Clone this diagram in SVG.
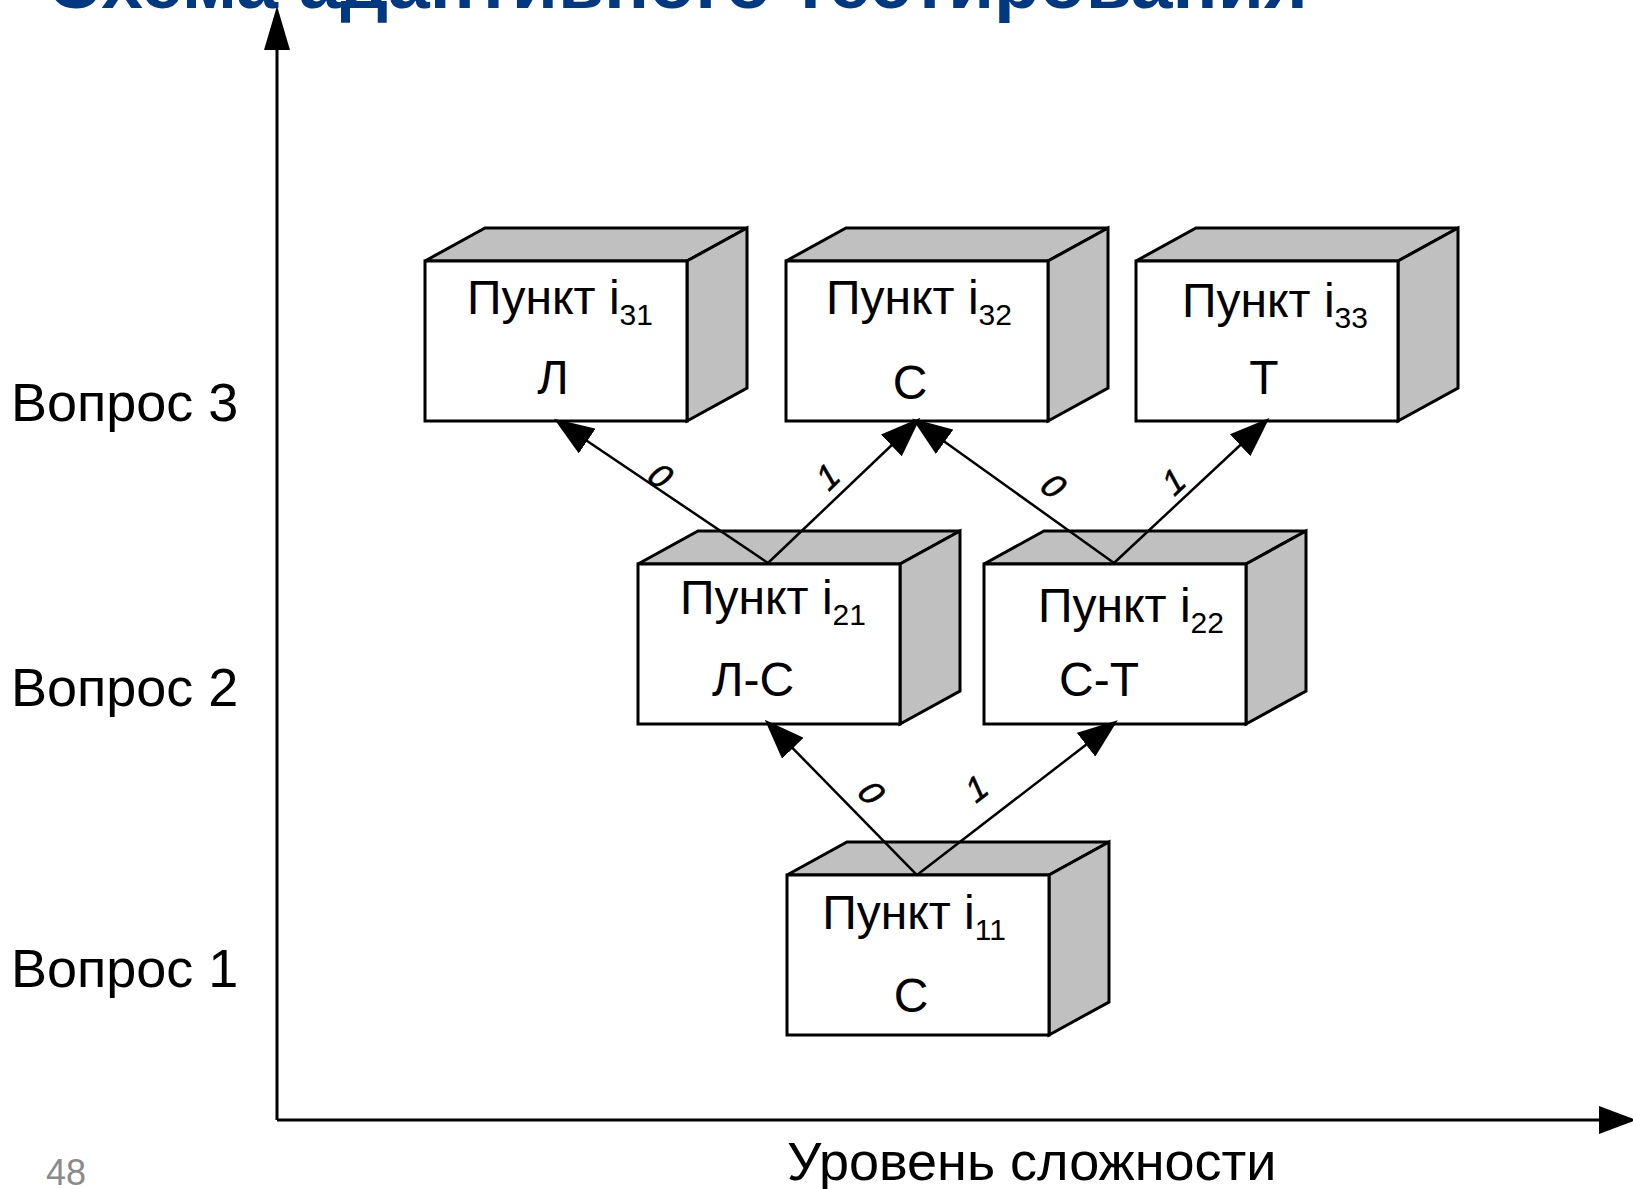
<svg xmlns="http://www.w3.org/2000/svg" width="1633" height="1189" viewBox="0 0 1633 1189">
<style>
.title{font-family:"Liberation Sans",Arial,sans-serif;font-weight:bold;font-size:75px;fill:#003882}
.t{font-family:"Liberation Sans",Arial,sans-serif;fill:#000}
.lbl{font-size:54px}
.bt{font-size:48px;text-anchor:middle}
.sub{font-size:30px}
.edge{font-family:"Liberation Sans",Arial,sans-serif;font-size:34px;text-anchor:middle;fill:#000;stroke:#000;stroke-width:0.6}
.front{fill:#fff;stroke:#000;stroke-width:3;stroke-linejoin:miter}
.shade{fill:#c0c0c0;stroke:#000;stroke-width:3;stroke-linejoin:miter}
.conn{stroke:#000;stroke-width:2.5;fill:none}
.axis{stroke:#000;stroke-width:3;fill:none}
</style>
<defs>
<marker id="ah" markerUnits="userSpaceOnUse" markerWidth="40" markerHeight="30" viewBox="0 0 40 30" refX="34" refY="15" orient="auto">
<path d="M0,0 L40,15 L0,30 z" fill="#000"/>
</marker>
</defs>
<rect width="1633" height="1189" fill="#fff"/>
<text class="title" x="47" y="8">Схема адаптивного тестирования</text>

<g id="axes">
<line class="axis" x1="277" y1="1120" x2="277" y2="48"/>
<polygon points="277,6 264,50 290,50" fill="#000"/>
<line class="axis" x1="277" y1="1120" x2="1602" y2="1120"/>
<polygon points="1636,1120 1599,1106 1599,1134" fill="#000"/>
</g>

<g id="axis-labels" class="t">
<text class="lbl" x="11" y="421">Вопрос 3</text>
<text class="lbl" x="11" y="706">Вопрос 2</text>
<text class="lbl" x="11" y="987">Вопрос 1</text>
<text class="lbl" x="787" y="1180" font-size="52.5">Уровень сложности</text>
<text x="46" y="1185" font-size="36" fill="#8a8a8a">48</text>
</g>

<g id="node-i31">
<polygon class="shade" points="425,261 485,228 747,228 687,261"/>
<polygon class="shade" points="687,261 747,228 747,388 687,421"/>
<rect class="front" x="425" y="261" width="262" height="160"/>
<text class="t bt" x="560" y="314">Пункт i<tspan class="sub" dy="11">31</tspan></text>
<text class="t bt" x="553" y="394">Л</text>
</g>

<g id="node-i32">
<polygon class="shade" points="786,261 846,228 1108,228 1048,261"/>
<polygon class="shade" points="1048,261 1108,228 1108,388 1048,421"/>
<rect class="front" x="786" y="261" width="262" height="160"/>
<text class="t bt" x="919" y="314">Пункт i<tspan class="sub" dy="11">32</tspan></text>
<text class="t bt" x="910" y="399">С</text>
</g>

<g id="node-i33">
<polygon class="shade" points="1136,261 1196,228 1458,228 1398,261"/>
<polygon class="shade" points="1398,261 1458,228 1458,388 1398,421"/>
<rect class="front" x="1136" y="261" width="262" height="160"/>
<text class="t bt" x="1275" y="317">Пункт i<tspan class="sub" dy="11">33</tspan></text>
<text class="t bt" x="1264" y="394">Т</text>
</g>

<g id="node-i21">
<polygon class="shade" points="638,564 698,531 960,531 900,564"/>
<polygon class="shade" points="900,564 960,531 960,691 900,724"/>
<rect class="front" x="638" y="564" width="262" height="160"/>
<text class="t bt" x="773" y="614">Пункт i<tspan class="sub" dy="11">21</tspan></text>
<text class="t bt" x="753" y="696">Л-С</text>
</g>

<g id="node-i22">
<polygon class="shade" points="984,564 1044,531 1306,531 1246,564"/>
<polygon class="shade" points="1246,564 1306,531 1306,691 1246,724"/>
<rect class="front" x="984" y="564" width="262" height="160"/>
<text class="t bt" x="1131" y="622">Пункт i<tspan class="sub" dy="11">22</tspan></text>
<text class="t bt" x="1099" y="696">С-Т</text>
</g>

<g id="node-i11">
<polygon class="shade" points="787,875 847,842 1109,842 1049,875"/>
<polygon class="shade" points="1049,875 1109,842 1109,1002 1049,1035"/>
<rect class="front" x="787" y="875" width="262" height="160"/>
<text class="t bt" x="914" y="929">Пункт i<tspan class="sub" dy="11">11</tspan></text>
<text class="t bt" x="911" y="1012">С</text>
</g>

<g id="connectors">
<line class="conn" x1="917" y1="875" x2="769" y2="724" marker-end="url(#ah)"/>
<line class="conn" x1="917" y1="875" x2="1113" y2="724" marker-end="url(#ah)"/>
<line class="conn" x1="768" y1="563" x2="559" y2="422" marker-end="url(#ah)"/>
<line class="conn" x1="768" y1="563" x2="916" y2="422" marker-end="url(#ah)"/>
<line class="conn" x1="1114" y1="563" x2="917" y2="422" marker-end="url(#ah)"/>
<line class="conn" x1="1114" y1="563" x2="1265" y2="422" marker-end="url(#ah)"/>
<text class="edge" transform="translate(872,793) rotate(45) skewX(-14)" dy="12">0</text>
<text class="edge" transform="translate(977,788) rotate(-38) skewX(-14)" dy="12">1</text>
<text class="edge" transform="translate(661,476) rotate(34) skewX(-14)" dy="12">0</text>
<text class="edge" transform="translate(828,476) rotate(-44) skewX(-14)" dy="12">1</text>
<text class="edge" transform="translate(1054,486) rotate(36) skewX(-14)" dy="12">0</text>
<text class="edge" transform="translate(1174,481) rotate(-43) skewX(-14)" dy="12">1</text>
</g>
</svg>
